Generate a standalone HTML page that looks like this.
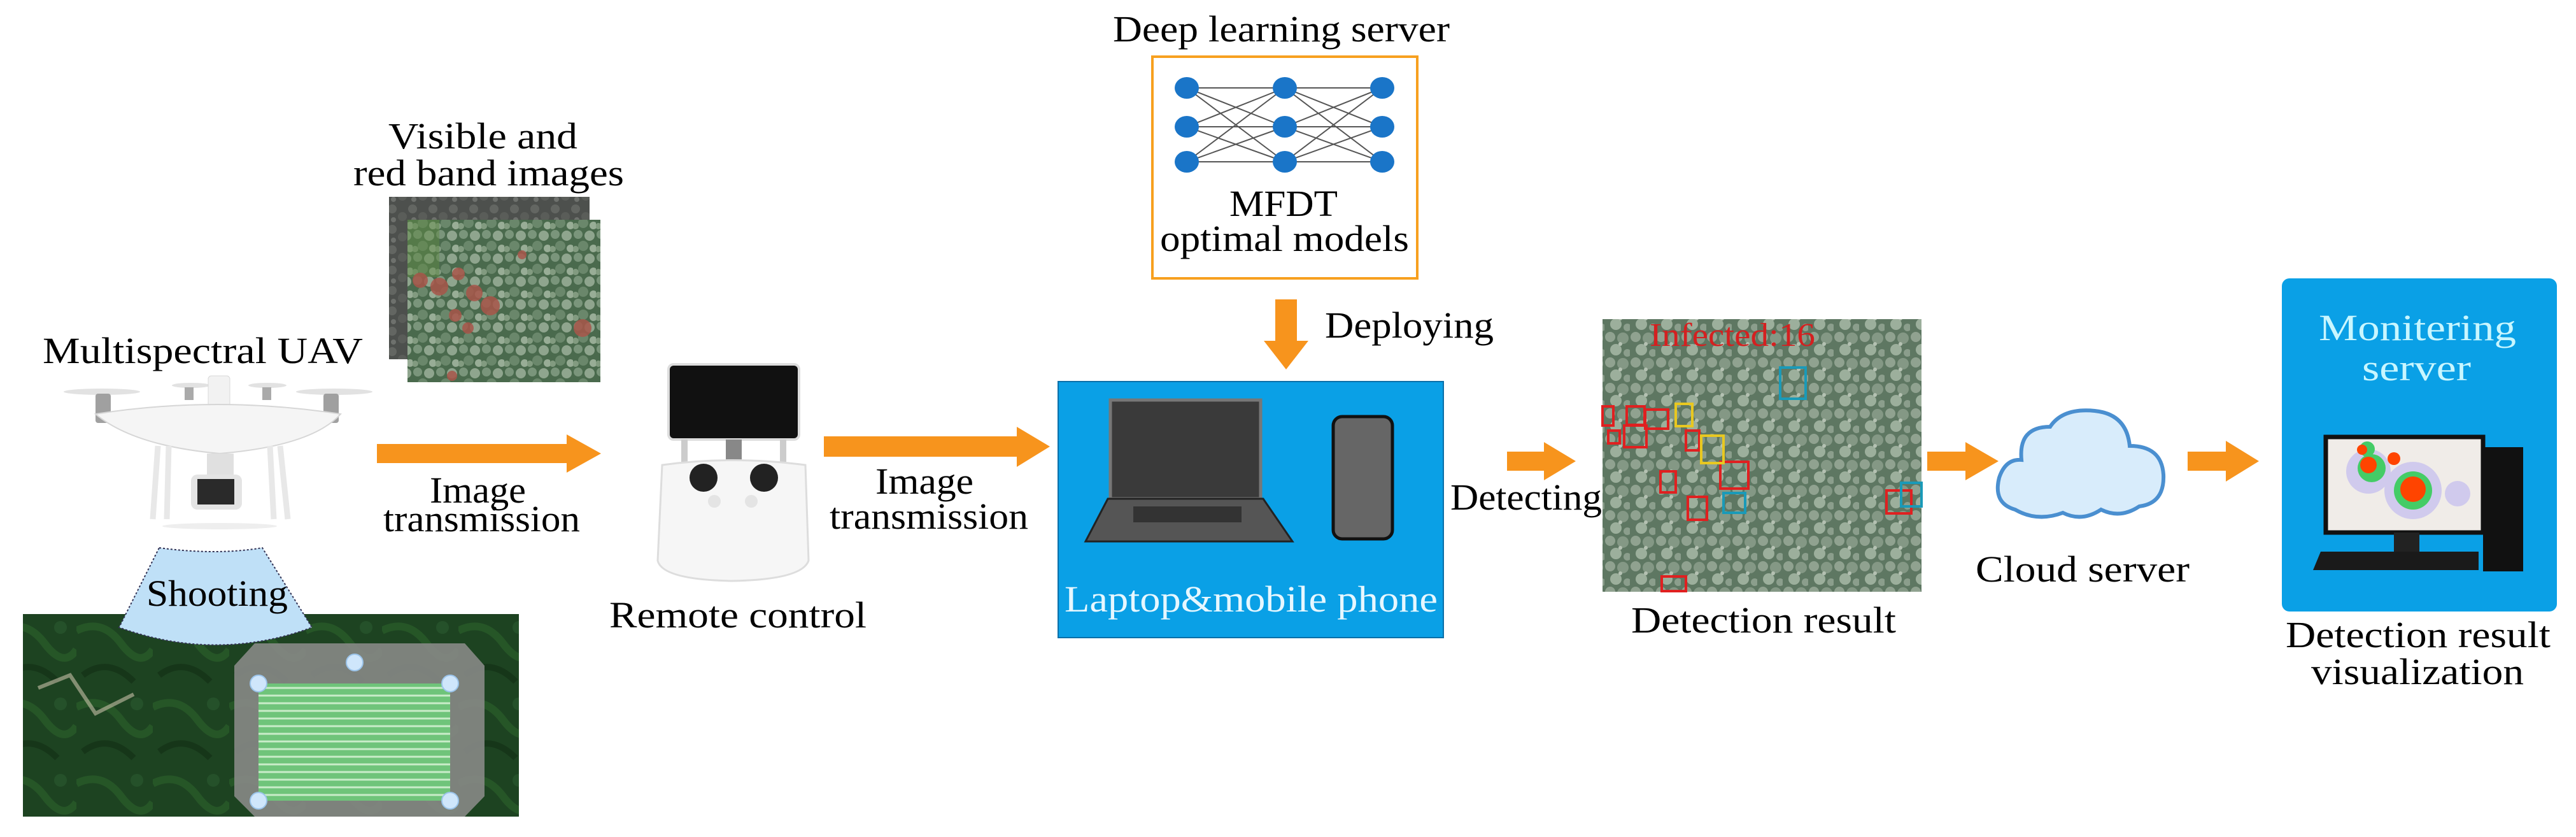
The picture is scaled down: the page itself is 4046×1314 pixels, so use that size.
<!DOCTYPE html>
<html><head><meta charset="utf-8"><style>html,body{margin:0;padding:0;background:#fff}svg{display:block}text{font-family:"Liberation Serif",serif !important}</style></head>
<body>
<svg xmlns="http://www.w3.org/2000/svg" width="4046" height="1314" viewBox="0 0 4046 1314" font-family="Liberation Serif, serif">
<defs>
<pattern id="can" width="36" height="36" patternUnits="userSpaceOnUse">
<rect width="36" height="36" fill="#4a6a4d"/>
<circle cx="8" cy="8" r="7" fill="#7a957b"/><circle cx="26" cy="10" r="8" fill="#8fa58e"/>
<circle cx="16" cy="26" r="8" fill="#6a876b"/><circle cx="32" cy="30" r="6" fill="#98ad96"/>
<circle cx="4" cy="31" r="5" fill="#829b80"/>
</pattern>
<pattern id="dark" width="32" height="32" patternUnits="userSpaceOnUse">
<rect width="32" height="32" fill="#4d504d"/>
<circle cx="8" cy="8" r="7" fill="#636662"/><circle cx="24" cy="20" r="7" fill="#5a5d59"/><circle cx="10" cy="25" r="4" fill="#6e716d"/>
</pattern>
<pattern id="det" width="40" height="40" patternUnits="userSpaceOnUse">
<rect width="40" height="40" fill="#5e7762"/>
<circle cx="9" cy="9" r="8" fill="#90a290"/><circle cx="29" cy="11" r="9" fill="#849885"/>
<circle cx="18" cy="29" r="9" fill="#9caf9c"/><circle cx="36" cy="34" r="6" fill="#8b9e8c"/><circle cx="25" cy="20" r="3" fill="#b4c1b2"/>
</pattern>
<pattern id="sat" width="120" height="120" patternUnits="userSpaceOnUse">
<rect width="120" height="120" fill="#1d4321"/>
<path d="M0 30 Q40 10 70 50 T120 60" stroke="#265627" stroke-width="12" fill="none"/>
<path d="M10 100 Q50 70 90 110" stroke="#163619" stroke-width="10" fill="none"/>
<circle cx="95" cy="25" r="10" fill="#25512a"/>
</pattern>
</defs>

<!-- Deep learning server -->
<text x="1748" y="65" font-size="58" textLength="529" lengthAdjust="spacingAndGlyphs">Deep learning server</text>
<rect x="1810" y="89" width="416" height="348" fill="#fff" stroke="#f7a01f" stroke-width="4"/>
<g stroke="#555" stroke-width="2">
<path d="M1864 138L2018 138M1864 138L2018 199M1864 138L2018 254M1864 199L2018 138M1864 199L2018 199M1864 199L2018 254M1864 254L2018 138M1864 254L2018 199M1864 254L2018 254"/>
<path d="M2018 138L2171 138M2018 138L2171 199M2018 138L2171 254M2018 199L2171 138M2018 199L2171 199M2018 199L2171 254M2018 254L2171 138M2018 254L2171 199M2018 254L2171 254"/>
</g>
<g fill="#1a75c8">
<ellipse cx="1864" cy="138" rx="19" ry="17"/><ellipse cx="1864" cy="199" rx="19" ry="17"/><ellipse cx="1864" cy="254" rx="19" ry="17"/>
<ellipse cx="2018" cy="138" rx="19" ry="17"/><ellipse cx="2018" cy="199" rx="19" ry="17"/><ellipse cx="2018" cy="254" rx="19" ry="17"/>
<ellipse cx="2171" cy="138" rx="19" ry="17"/><ellipse cx="2171" cy="199" rx="19" ry="17"/><ellipse cx="2171" cy="254" rx="19" ry="17"/>
</g>
<text x="1931" y="339" font-size="58" textLength="170" lengthAdjust="spacingAndGlyphs">MFDT</text>
<text x="1822" y="394" font-size="58" textLength="391" lengthAdjust="spacingAndGlyphs">optimal models</text>
<polygon points="2003,470 2037,470 2037,535 2055,535 2020,580 1985,535 2003,535" fill="#f7941d"/>
<text x="2081" y="530" font-size="58" textLength="265" lengthAdjust="spacingAndGlyphs">Deploying</text>

<!-- Visible images -->
<text x="610" y="233" font-size="58" textLength="297" lengthAdjust="spacingAndGlyphs">Visible and</text>
<text x="555" y="291" font-size="58" textLength="425" lengthAdjust="spacingAndGlyphs">red band images</text>
<rect x="611" y="309" width="315" height="255" fill="url(#dark)"/>
<rect x="640" y="345" width="303" height="255" fill="url(#can)"/>
<rect x="640" y="345" width="50" height="90" fill="#5f8a45" opacity="0.5"/>
<g fill="#a8564a" opacity="0.85"><circle cx="660" cy="440" r="12"/><circle cx="690" cy="450" r="14"/><circle cx="720" cy="430" r="10"/><circle cx="745" cy="460" r="13"/><circle cx="770" cy="480" r="15"/><circle cx="715" cy="495" r="10"/><circle cx="735" cy="515" r="9"/><circle cx="915" cy="515" r="14"/><circle cx="820" cy="400" r="7"/><circle cx="710" cy="590" r="8"/></g>

<!-- UAV -->
<text x="67" y="570" font-size="58" textLength="503" lengthAdjust="spacingAndGlyphs">Multispectral UAV</text>
<g>
<ellipse cx="160" cy="615" rx="60" ry="5" fill="#e2e2e2"/><ellipse cx="525" cy="615" rx="60" ry="5" fill="#e2e2e2"/>
<ellipse cx="300" cy="605" rx="30" ry="4" fill="#e2e2e2"/><ellipse cx="420" cy="605" rx="30" ry="4" fill="#e2e2e2"/>
<rect x="150" y="618" width="24" height="46" rx="4" fill="#a0a0a0"/><rect x="508" y="618" width="24" height="46" rx="4" fill="#a0a0a0"/>
<rect x="290" y="608" width="14" height="20" fill="#aaa"/><rect x="412" y="608" width="14" height="20" fill="#aaa"/>
<rect x="327" y="590" width="34" height="50" rx="5" fill="#f2f2f2" stroke="#d8d8d8"/>
<path d="M150 650 Q340 620 535 650 Q490 700 345 712 Q210 700 150 650Z" fill="#f5f5f5" stroke="#d6d6d6" stroke-width="2"/>
<path d="M248 700 L240 815 M265 700 L262 815 M440 700 L452 815 M424 700 L430 815" stroke="#e8e8e8" stroke-width="9"/>
<rect x="325" y="712" width="42" height="40" fill="#e0e0e0"/>
<rect x="300" y="745" width="80" height="55" rx="10" fill="#e4e4e4"/>
<rect x="310" y="752" width="58" height="40" fill="#2a2a2a"/>
<ellipse cx="345" cy="826" rx="90" ry="5" fill="#eee"/>
</g>

<!-- Arrow 1 -->
<polygon points="592,697 890,697 890,682 944,712 890,742 890,727 592,727" fill="#f7941d"/>
<text x="675" y="789" font-size="58" textLength="151" lengthAdjust="spacingAndGlyphs">Image</text>
<text x="602" y="834" font-size="58" textLength="309" lengthAdjust="spacingAndGlyphs">transmission</text>

<!-- Shooting + map -->
<rect x="36" y="964" width="779" height="318" fill="url(#sat)"/>
<path d="M60 1080 L110 1060 L150 1120 L210 1090" stroke="#c8c2a8" stroke-width="6" fill="none" opacity="0.6"/>
<polygon points="400,1010 730,1010 761,1045 761,1250 730,1282 400,1282 368,1250 368,1045" fill="#858884" opacity="0.92"/>
<rect x="406" y="1073" width="301" height="184" fill="#6fc47a"/>
<g stroke="#c9ecc9" stroke-width="3">
<path d="M406 1080H707M406 1092H707M406 1104H707M406 1116H707M406 1128H707M406 1140H707M406 1152H707M406 1164H707M406 1176H707M406 1188H707M406 1200H707M406 1212H707M406 1224H707M406 1236H707M406 1248H707"/>
</g>
<g fill="#cfe6fb" stroke="#9bc4ea" stroke-width="2">
<circle cx="557" cy="1040" r="13"/><circle cx="406" cy="1073" r="13"/><circle cx="707" cy="1073" r="13"/><circle cx="406" cy="1257" r="13"/><circle cx="707" cy="1257" r="13"/>
</g>
<path d="M250 860 Q340 872 412 860 L490 985 Q340 1040 187 985 Z" fill="#bfe0f7" stroke="#335" stroke-width="2" stroke-dasharray="3,3"/>
<text x="230" y="951" font-size="58" textLength="222" lengthAdjust="spacingAndGlyphs">Shooting</text>

<!-- Remote control -->
<rect x="1050" y="572" width="205" height="118" rx="8" fill="#111" stroke="#ddd" stroke-width="4"/>
<rect x="1070" y="690" width="10" height="50" fill="#ccc"/><rect x="1225" y="690" width="10" height="50" fill="#ccc"/>
<rect x="1140" y="690" width="25" height="60" fill="#888"/>
<path d="M1040 730 Q1150 715 1265 730 L1270 880 Q1260 910 1150 912 Q1040 910 1033 880 Z" fill="#f6f6f6" stroke="#ddd" stroke-width="3"/>
<circle cx="1105" cy="750" r="22" fill="#222"/><circle cx="1200" cy="750" r="22" fill="#222"/>
<circle cx="1122" cy="787" r="10" fill="#e4e4e4"/><circle cx="1180" cy="787" r="10" fill="#e4e4e4"/>
<text x="957" y="985" font-size="58" textLength="404" lengthAdjust="spacingAndGlyphs">Remote control</text>

<!-- Arrow 2 -->
<polygon points="1294,685 1597,685 1597,670 1649,701 1597,733 1597,717 1294,717" fill="#f7941d"/>
<text x="1375" y="775" font-size="58" textLength="154" lengthAdjust="spacingAndGlyphs">Image</text>
<text x="1303" y="830" font-size="58" textLength="312" lengthAdjust="spacingAndGlyphs">transmission</text>

<!-- Laptop box -->
<rect x="1662" y="599" width="605" height="402" fill="#0aa0e6" stroke="#0a6fa8" stroke-width="2"/>
<rect x="1744" y="628" width="236" height="155" fill="#3a3a3a" stroke="#777" stroke-width="5"/>
<polygon points="1740,783 1984,783 2030,850 1705,850" fill="#555" stroke="#222" stroke-width="3"/>
<rect x="1780" y="795" width="170" height="25" fill="#333"/>
<rect x="2094" y="654" width="93" height="192" rx="14" fill="#666" stroke="#111" stroke-width="5"/>
<text x="1672" y="960" font-size="58" fill="#e6f7ff" textLength="586" lengthAdjust="spacingAndGlyphs">Laptop&amp;mobile phone</text>

<!-- Detecting -->
<polygon points="2367,709 2425,709 2425,694 2475,724 2425,754 2425,739 2367,739" fill="#f7941d"/>
<text x="2278" y="800" font-size="58" textLength="238" lengthAdjust="spacingAndGlyphs">Detecting</text>
<rect x="2517" y="501" width="501" height="428" fill="url(#det)"/>
<text x="2591" y="543" font-size="52" fill="#d42020" textLength="260" lengthAdjust="spacingAndGlyphs">Infected:16</text>
<g fill="none" stroke-width="4">
<g stroke="#e02020">
<rect x="2517" y="638" width="17" height="30"/><rect x="2555" y="638" width="28" height="29"/><rect x="2584" y="643" width="36" height="30"/>
<rect x="2526" y="676" width="18" height="20"/><rect x="2551" y="668" width="35" height="34"/><rect x="2648" y="676" width="21" height="31"/>
<rect x="2702" y="725" width="44" height="42"/><rect x="2608" y="740" width="24" height="33"/><rect x="2651" y="780" width="30" height="36"/>
<rect x="2963" y="770" width="39" height="36"/><rect x="2610" y="905" width="38" height="23"/></g>
<g stroke="#e8c820"><rect x="2632" y="634" width="26" height="35"/><rect x="2672" y="684" width="35" height="43"/></g>
<g stroke="#1a9ab8"><rect x="2796" y="577" width="40" height="49"/><rect x="2707" y="774" width="34" height="31"/><rect x="2986" y="758" width="32" height="37"/></g>
</g>
<text x="2562" y="993" font-size="58" textLength="416" lengthAdjust="spacingAndGlyphs">Detection result</text>

<!-- Cloud -->
<polygon points="3027,709 3087,709 3087,694 3139,724 3087,754 3087,739 3027,739" fill="#f7941d"/>
<path d="M3165 800 Q3130 790 3140 750 Q3150 720 3175 722 Q3170 670 3220 670 Q3240 640 3290 645 Q3340 650 3345 700 Q3395 700 3398 745 Q3400 790 3360 795 Q3330 815 3300 800 Q3270 820 3240 805 Q3200 820 3165 800 Z" fill="#d8ecfb" stroke="#4a8fd0" stroke-width="6"/>
<text x="3103" y="913" font-size="58" textLength="336" lengthAdjust="spacingAndGlyphs">Cloud server</text>

<!-- Monitoring -->
<polygon points="3436,709 3496,709 3496,692 3548,724 3496,756 3496,739 3436,739" fill="#f7941d"/>
<rect x="3584" y="437" width="432" height="523" rx="12" fill="#0aa0e6"/>
<text x="3642" y="534" font-size="58" fill="#c8f6ff" textLength="310" lengthAdjust="spacingAndGlyphs">Monitering</text>
<text x="3710" y="597" font-size="58" fill="#c8f6ff" textLength="171" lengthAdjust="spacingAndGlyphs">server</text>
<rect x="3900" y="702" width="63" height="195" fill="#111"/>
<rect x="3653" y="686" width="247" height="150" fill="#f0ece8" stroke="#111" stroke-width="7"/>
<g fill="#c9c2ef" opacity="0.8"><circle cx="3720" cy="740" r="35"/><circle cx="3790" cy="770" r="45"/><circle cx="3860" cy="775" r="20"/></g>
<g fill="#4c6"><circle cx="3725" cy="735" r="22"/><circle cx="3790" cy="770" r="30"/><circle cx="3718" cy="705" r="12"/></g>
<g fill="#f40"><circle cx="3720" cy="730" r="13"/><circle cx="3790" cy="768" r="20"/><circle cx="3760" cy="720" r="10"/><circle cx="3710" cy="706" r="8"/></g>
<rect x="3760" y="836" width="40" height="30" fill="#222"/>
<polygon points="3645,866 3893,866 3893,895 3633,895" fill="#1a1a1a"/>
<text x="3590" y="1016" font-size="58" textLength="416" lengthAdjust="spacingAndGlyphs">Detection result</text>
<text x="3630" y="1074" font-size="58" textLength="334" lengthAdjust="spacingAndGlyphs">visualization</text>
</svg>
</body></html>
